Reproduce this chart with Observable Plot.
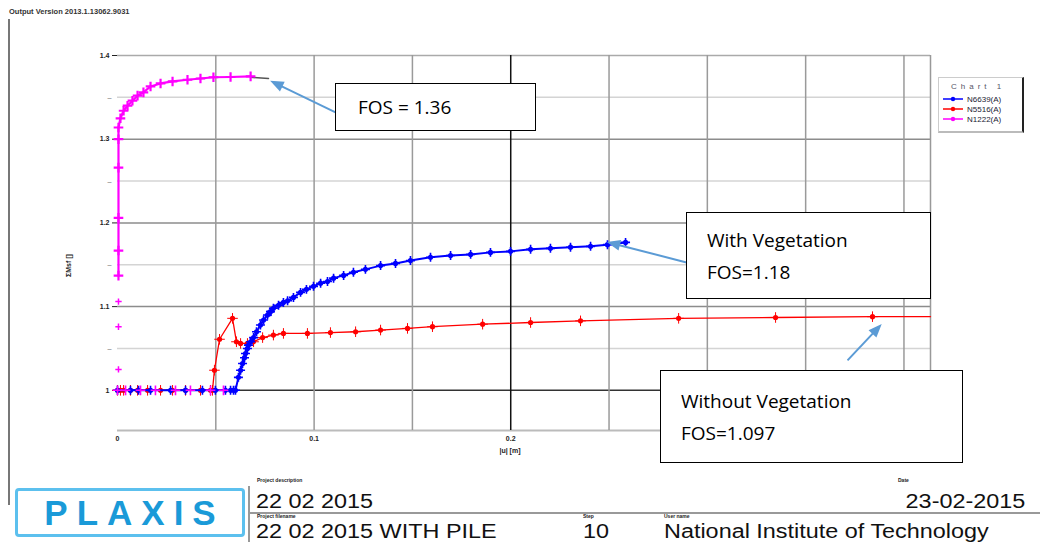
<!DOCTYPE html>
<html>
<head>
<meta charset="utf-8">
<script src="https://cdn.jsdelivr.net/npm/d3@7"></script>
<script src="https://cdn.jsdelivr.net/npm/@observablehq/plot@0.6"></script>
<style>
  body { margin: 0; background: #fff; }
  #wrap { position: relative; width: 1054px; height: 542px; overflow: hidden; font-family: "Liberation Sans", Arial, sans-serif; }
  #wrap svg.plot { position: absolute; left: 0; top: 0; }
  .abs { position: absolute; }
  .note { position: absolute; background: #fff; border: 1px solid #000; font-family: "Open Sans", sans-serif; font-size: 19px; color: #000; box-sizing: border-box; line-height: 32px; }
  .tiny { position: absolute; font-size: 5px; line-height: 5px; color: #222; font-weight: bold; }
  .big { position: absolute; font-size: 20px; line-height: 20px; color: #111; white-space: nowrap; transform: scaleX(1.17); transform-origin: left center; }
</style>
</head>
<body>
<div id="wrap"></div>
<script>
// ---- data ----
const seriesNames = ["N6639(A)", "N5516(A)", "N1222(A)"];
const seriesColors = ["#0000ff", "#ff0000", "#ff00ff"];

// N6639(A) blue - with vegetation
const blueX = [0, 0.0066, 0.0107, 0.0168, 0.0270, 0.0346, 0.0432, 0.0498, 0.0549, 0.0575, 0.0590, 0.0600,
  0.0615, 0.0626, 0.0636, 0.0646, 0.0651, 0.0661, 0.0666, 0.0677, 0.0692, 0.0707, 0.0727, 0.0743, 0.0763, 0.0778,
  0.0793, 0.0819, 0.0844, 0.0865, 0.0895, 0.0931, 0.0961, 0.0997, 0.1033, 0.1068, 0.1099, 0.1150, 0.1200, 0.1261,
  0.1338, 0.1414, 0.1490, 0.1592, 0.1694, 0.1796, 0.1897, 0.1999, 0.2101, 0.2202, 0.2304, 0.2406, 0.2492, 0.2584];
const blueY = [1, 1, 1, 1, 1, 1, 1, 1, 1, 1, 1, 1,
  1.0155, 1.024, 1.032, 1.039, 1.044, 1.050, 1.054, 1.058, 1.063, 1.070, 1.078, 1.084, 1.090, 1.094,
  1.098, 1.1015, 1.105, 1.107, 1.111, 1.117, 1.1206, 1.1242, 1.128, 1.130, 1.134, 1.1373, 1.141, 1.1445,
  1.149, 1.1516, 1.155, 1.159, 1.161, 1.1624, 1.1648, 1.166, 1.1684, 1.1696, 1.171, 1.172, 1.174, 1.1767];

// N5516(A) red - without vegetation
const redX = [0, 0.0015, 0.0031, 0.0066, 0.0102, 0.0153, 0.0219, 0.0280, 0.0346, 0.0422, 0.0473,
  0.0483, 0.0493, 0.0519, 0.0585, 0.0605, 0.0626, 0.0661, 0.0692, 0.0738, 0.0793, 0.0844, 0.0966, 0.1083,
  0.1211, 0.1338, 0.1475, 0.1602, 0.1857, 0.2101, 0.2355, 0.2854, 0.3347, 0.3840, 0.4135];
const redY = [1, 1, 1, 1, 1, 1, 1, 1, 1, 1, 1,
  1.0, 1.024, 1.061, 1.086, 1.058, 1.056, 1.056, 1.058, 1.063, 1.066, 1.068, 1.068, 1.069,
  1.070, 1.072, 1.074, 1.076, 1.079, 1.081, 1.083, 1.086, 1.087, 1.088, 1.088];
const redMarked = [true, true, true, true, true, true, true, true, true, true, true,
  true, true, true, true, true, true, true, true, true, true, true, true, true,
  true, true, true, true, true, true, true, true, true, true, false];

// N1222(A) magenta - FOS 1.36
const magFlatX = [0, 0.0041, 0.0117, 0.0193, 0.0295, 0.0371, 0.0473, 0.0539];
const magFlatY = [1, 1, 1, 1, 1, 1, 1, 1];
const magLooseX = [0.0005, 0.0005, 0.0005];
const magLooseY = [1.025, 1.076, 1.106];
const magX = [0.0005, 0.0005, 0.0005, 0.0005, 0.0005, 0.0005, 0.0015, 0.0031, 0.0051, 0.0076, 0.0102, 0.0132,
  0.0168, 0.0219, 0.0280, 0.0356, 0.0422, 0.0488, 0.0575, 0.0677];
const magY = [1.137, 1.167, 1.206, 1.266, 1.3, 1.314, 1.325, 1.334, 1.340, 1.346, 1.352, 1.356,
  1.363, 1.3666, 1.369, 1.371, 1.3725, 1.374, 1.3743, 1.375];
const stubX = [0.0677, 0.0768];
const stubY = [1.374, 1.3725];

// axes
const xDomain = [0, 0.4135];
const yDomain = [0.952, 1.4];
const xTicks = [0, 0.1, 0.2];
const yTicks = [1, 1.1, 1.2, 1.3, 1.4];
const yMinorTicks = [1.05, 1.15, 1.25, 1.35];
const xGridMajor = [0.05, 0.1, 0.15, 0.25, 0.3, 0.35, 0.4];
const xGridDark = [0.2];
const yGridMajor = [1.1, 1.2, 1.3];
const yGridMinor = [1.05, 1.15, 1.25, 1.35];
const yGridDark = [1.0];
const xLabel = "|u| [m]";
const yLabel = "ΣMsf []";

// annotations: arrows (tail -> head) in data units, and boxes
const arrowX1 = [0.1109, 0.2894, 0.3713];
const arrowY1 = [1.332, 1.1528, 1.0358];
const arrowX2 = [0.0804, 0.2518, 0.3866];
const arrowY2 = [1.3666, 1.1755, 1.074];
const noteTexts = [["FOS = 1.36"], ["With Vegetation", "FOS=1.18"], ["Without Vegetation", "FOS=1.097"]];

// ---- build tables ----
const zip = (xs, ys) => xs.map((x, i) => ({x, y: ys[i]}));
const blue = zip(blueX, blueY);
const red = zip(redX, redY);
const redPts = red.filter((d, i) => redMarked[i]);
const magFlat = zip(magFlatX, magFlatY);
const magLoose = zip(magLooseX, magLooseY);
const mag = zip(magX, magY);
const stub = zip(stubX, stubY);
const arrows = arrowX1.map((x1, i) => ({x1, y1: arrowY1[i], x2: arrowX2[i], y2: arrowY2[i]}));

const chart = Plot.plot({
  width: 1054, height: 542,
  marginLeft: 117, marginRight: 124, marginTop: 55, marginBottom: 112,
  style: {fontFamily: "'Liberation Sans', Arial, sans-serif", fontSize: "7px", fontWeight: "bold", color: "#222", background: "transparent"},
  x: {type: "linear", domain: xDomain, ticks: xTicks, tickSize: 0, tickPadding: 6, tickFormat: d => d === 0 ? "0" : d3.format(".1f")(d), label: null},
  y: {type: "linear", domain: yDomain, ticks: yTicks, tickSize: 5, tickPadding: 3, tickFormat: d => d === 1 ? "1" : d3.format(".1f")(d), label: null},
  marks: [
    Plot.ruleY(yGridMinor, {stroke: "#d4d4d4", strokeWidth: 1.5}),
    Plot.ruleY(yGridMajor, {stroke: "#8c8c8c", strokeWidth: 1.5}),
    Plot.ruleY(yGridDark, {stroke: "#333", strokeWidth: 1.5}),
    Plot.ruleY([yDomain[1]], {stroke: "#aaa", strokeWidth: 1.5}),
    Plot.ruleY([yDomain[0]], {stroke: "#bbb", strokeWidth: 2}),
    Plot.ruleX(xGridMajor, {stroke: "#9a9a9a", strokeWidth: 1.5}),
    Plot.ruleX(xGridDark, {stroke: "#111", strokeWidth: 1.5}),
    Plot.ruleX([xDomain[1]], {stroke: "#999", strokeWidth: 1.5}),
    Plot.text(yMinorTicks, {x: () => xDomain[0], y: d => d, text: () => "–", dx: -8, fill: "#999", fontSize: 8}),
    // red
    Plot.line(red, {x: "x", y: "y", stroke: seriesColors[1], strokeWidth: 1.3}),
    Plot.dot(redPts, {x: "x", y: "y", r: 2.6, fill: seriesColors[1]}),
    Plot.dot(redPts, {x: "x", y: "y", r: 3.5, symbol: "plus", stroke: seriesColors[1], strokeWidth: 1}),
    // blue
    Plot.line(blue, {x: "x", y: "y", stroke: seriesColors[0], strokeWidth: 2}),
    Plot.dot(blue, {x: "x", y: "y", r: 2.6, fill: seriesColors[0]}),
    Plot.dot(blue, {x: "x", y: "y", r: 3, symbol: "plus", stroke: seriesColors[0], strokeWidth: 1.6}),
    // magenta
    Plot.line(stub, {x: "x", y: "y", stroke: "#555", strokeWidth: 1.5}),
    Plot.line(mag, {x: "x", y: "y", stroke: seriesColors[2], strokeWidth: 2.2}),
    Plot.dot(mag, {x: "x", y: "y", r: 3.2, symbol: "plus", stroke: seriesColors[2], strokeWidth: 2.2}),
    Plot.dot(magFlat, {x: "x", y: "y", r: 3.2, symbol: "plus", stroke: seriesColors[2], strokeWidth: 1.6}),
    Plot.dot(magLoose, {x: "x", y: "y", r: 2.2, symbol: "plus", stroke: seriesColors[2], strokeWidth: 1.5}),
    // annotation arrows
    Plot.link(arrows, {x1: "x1", y1: "y1", x2: "x2", y2: "y2", stroke: "#5b9bd5", strokeWidth: 2, markerEnd: "arrow", clip: false})
  ]
});
chart.classList.add("plot");
chart.querySelectorAll("marker").forEach(m => {
  m.setAttribute("viewBox", "-6 -6 12 12");
  m.setAttribute("markerWidth", "9");
  m.setAttribute("markerHeight", "9");
  m.setAttribute("fill", "#5b9bd5");
  m.setAttribute("stroke", "none");
  const p = m.querySelector("path");
  if (p) { p.setAttribute("d", "M-5,-3.6L4,0L-5,3.6Z"); p.setAttribute("fill", "#5b9bd5"); p.setAttribute("stroke", "none"); }
});

const wrap = document.getElementById("wrap");
wrap.appendChild(chart);

function add(html) { wrap.insertAdjacentHTML("beforeend", html); }

// axis titles
add(`<div class="abs" style="left:490px;top:447px;width:40px;text-align:center;font-size:7px;font-weight:bold;color:#222;">${xLabel}</div>`);
add(`<div class="abs" style="left:48px;top:262px;width:40px;text-align:center;font-size:7px;font-weight:bold;color:#222;transform:rotate(-90deg);">${yLabel}</div>`);

// header + page line
add(`<div class="abs" style="left:9px;top:7px;font-size:7.5px;font-weight:bold;color:#333;">Output Version 2013.1.13062.9031</div>`);
add(`<div class="abs" style="left:8px;top:19px;width:1.5px;height:486px;background:#777;"></div>`);

// legend
const legendRows = seriesNames.map((n, i) => `
  <div style="display:flex;align-items:center;height:10px;">
    <svg width="22" height="8" style="margin-right:3px"><line x1="1" y1="4" x2="21" y2="4" stroke="${seriesColors[i]}" stroke-width="1.5"/><circle cx="11" cy="4" r="2.2" fill="${seriesColors[i]}"/></svg>
    <span style="font-size:8px;color:#223;">${n}</span></div>`).join("");
add(`<div class="abs" style="left:938px;top:77px;width:86px;height:56px;border-top:1px solid #ccc;border-left:1px solid #ccc;border-right:2px solid #222;border-bottom:2px solid #bbb;background:#fff;box-sizing:border-box;padding:4px 0 0 3px;">
  <div style="font-size:8px;letter-spacing:4px;color:#556;margin:0 0 3px 9px;">Chart 1</div>${legendRows}</div>`);

// note boxes
const boxes = [
  {l: 335, t: 83, w: 201, h: 48, pad: 22},
  {l: 686, t: 212, w: 245, h: 87, pad: 20},
  {l: 660, t: 370, w: 303, h: 93, pad: 20}
];
boxes.forEach((b, i) => {
  const lines = noteTexts[i].map(s => `<div>${s}</div>`).join("");
  add(`<div class="note" style="left:${b.l}px;top:${b.t}px;width:${b.w}px;height:${b.h}px;padding-left:${b.pad}px;display:flex;flex-direction:column;justify-content:center;">${lines}</div>`);
});

// footer
add(`<div class="abs" style="left:15px;top:488px;width:230px;height:49px;border:3px solid #5cc0ee;border-radius:4px;box-sizing:border-box;display:flex;align-items:center;justify-content:center;font-family:'Liberation Sans',Arial,sans-serif;font-weight:bold;font-size:35px;letter-spacing:9px;padding-left:9px;color:#1a9ad8;">PLAXIS</div>`);
add(`<div class="abs" style="left:248px;top:486px;width:1.5px;height:56px;background:#999;"></div>`);
add(`<div class="abs" style="left:248px;top:512px;width:792px;height:1.5px;background:#999;"></div>`);
add(`<div class="tiny" style="left:257px;top:478px;">Project description</div>`);
add(`<div class="big" style="left:256px;top:491px;">22 02 2015</div>`);
add(`<div class="tiny" style="left:898px;top:478px;">Date</div>`);
add(`<div class="big" style="right:29px;top:491px;transform-origin:right center;">23-02-2015</div>`);
add(`<div class="tiny" style="left:257px;top:513.5px;">Project filename</div>`);
add(`<div class="big" style="left:256px;top:520.5px;">22 02 2015 WITH PILE</div>`);
add(`<div class="tiny" style="left:583px;top:513.5px;">Step</div>`);
add(`<div class="big" style="left:583px;top:520.5px;">10</div>`);
add(`<div class="tiny" style="left:664px;top:513.5px;">User name</div>`);
add(`<div class="big" style="left:664px;top:520.5px;">National Institute of Technology</div>`);
</script>
</body>
</html>
